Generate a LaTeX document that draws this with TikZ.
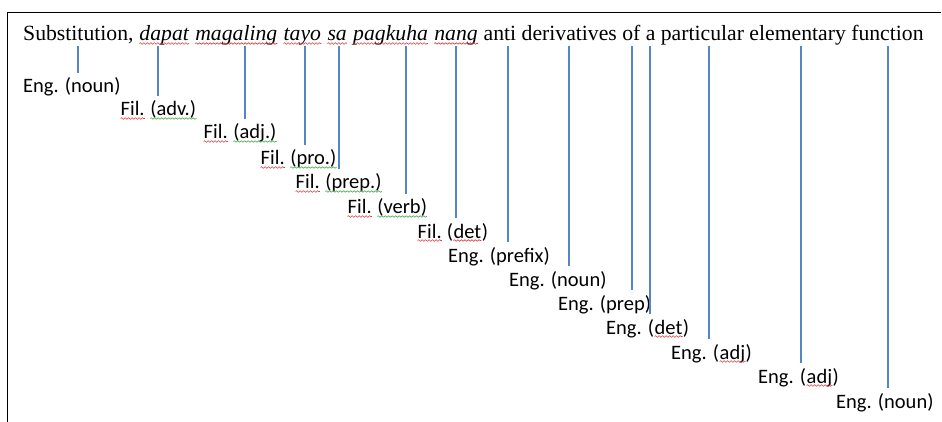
\documentclass[tikz,border=0pt]{standalone}
\usepackage{fontspec}
\setmainfont{Liberation Serif}
\newfontfamily\labelfont{Carlito}
\usetikzlibrary{decorations.pathmorphing,calc}

\definecolor{linkblue}{HTML}{5485C4}
\definecolor{spellred}{HTML}{E0393E}
\definecolor{grammargreen}{HTML}{4CAF50}

\tikzset{
  wave/.style={decorate,decoration={snake,amplitude=0.8pt,segment length=3.5pt},line width=0.6pt},
  sentence/.style={anchor=base west,inner sep=0pt,font=\fontsize{21.7}{26}\selectfont},
  tag/.style={anchor=base west,inner xsep=0pt,inner ysep=5pt,text height=15pt,text depth=0pt,
              font=\labelfont\fontsize{20.5}{24}\selectfont},
  link/.style={draw=linkblue,line width=2pt},
  frame/.style={draw=black,line width=1pt}
}

% words marked with a wavy underline
\newcommand\redwave[1]{\tikz[baseline=(w.base)]{\node[inner sep=0pt](w){#1};
  \draw[wave,spellred]([yshift=-2.5pt]w.base west)--([yshift=-2.5pt]w.base east);}}
\newcommand\greenwave[1]{\tikz[baseline=(w.base)]{\node[inner sep=0pt](w){#1};
  \draw[wave,grammargreen]([yshift=-2.5pt]w.base west)--([yshift=-2.5pt]w.base east);}}

\begin{document}
\begin{tikzpicture}[x=1pt,y=-1pt]
\useasboundingbox (0,0) rectangle (942,422);

% page frame
\draw[frame] (7,422) -- (7,13) -- (941,13);

% the sentence
\node[sentence] (sent) at (23,41) {Substitution, \textit{\redwave{dapat} \redwave{magaling} \redwave{tayo} \redwave{sa} \redwave{pagkuha} \redwave{nang}} anti derivatives of a particular elementary function};

% word anchors under the sentence
\coordinate (w1) at (78,46);
\coordinate (w2) at (158,46);
\coordinate (w3) at (245,46);
\coordinate (w4) at (304.5,46);
\coordinate (w5) at (339,46);
\coordinate (w6) at (406,46);
\coordinate (w7) at (456,46);
\coordinate (w8) at (508,46);
\coordinate (w9) at (569,46);
\coordinate (w10) at (632,46);
\coordinate (w11) at (650,46);
\coordinate (w12) at (709,46);
\coordinate (w13) at (801,46);
\coordinate (w14) at (888,46);

% word-class tags
\node[tag] (t1) at (23,93) {Eng. (noun)};
\node[tag] (t2) at (120,116) {\redwave{Fil.} \greenwave{(adv.)}};
\node[tag] (t3) at (203,139) {\redwave{Fil.} \greenwave{(adj.)}};
\node[tag] (t4) at (260,165) {\redwave{Fil.} \greenwave{(pro.)}};
\node[tag] (t5) at (295,189) {\redwave{Fil.} \greenwave{(prep.)}};
\node[tag] (t6) at (347,214) {\redwave{Fil.} \greenwave{(verb)}};
\node[tag] (t7) at (417,238) {\redwave{Fil.} (\redwave{det})};
\node[tag] (t8) at (448,262) {Eng. (prefix)};
\node[tag] (t9) at (509,286) {Eng. (noun)};
\node[tag] (t10) at (558,310) {Eng. (prep)};
\node[tag] (t11) at (606,334) {Eng. (\redwave{det})};
\node[tag] (t12) at (671,359) {Eng. (\redwave{adj})};
\node[tag] (t13) at (758,383) {Eng. (\redwave{adj})};
\node[tag] (t14) at (836,408) {Eng. (noun)};

% connectors from each word to its tag
\foreach \i in {1,...,14}
  \draw[link] (w\i) -- (w\i |- t\i.north);
\end{tikzpicture}
\end{document}
